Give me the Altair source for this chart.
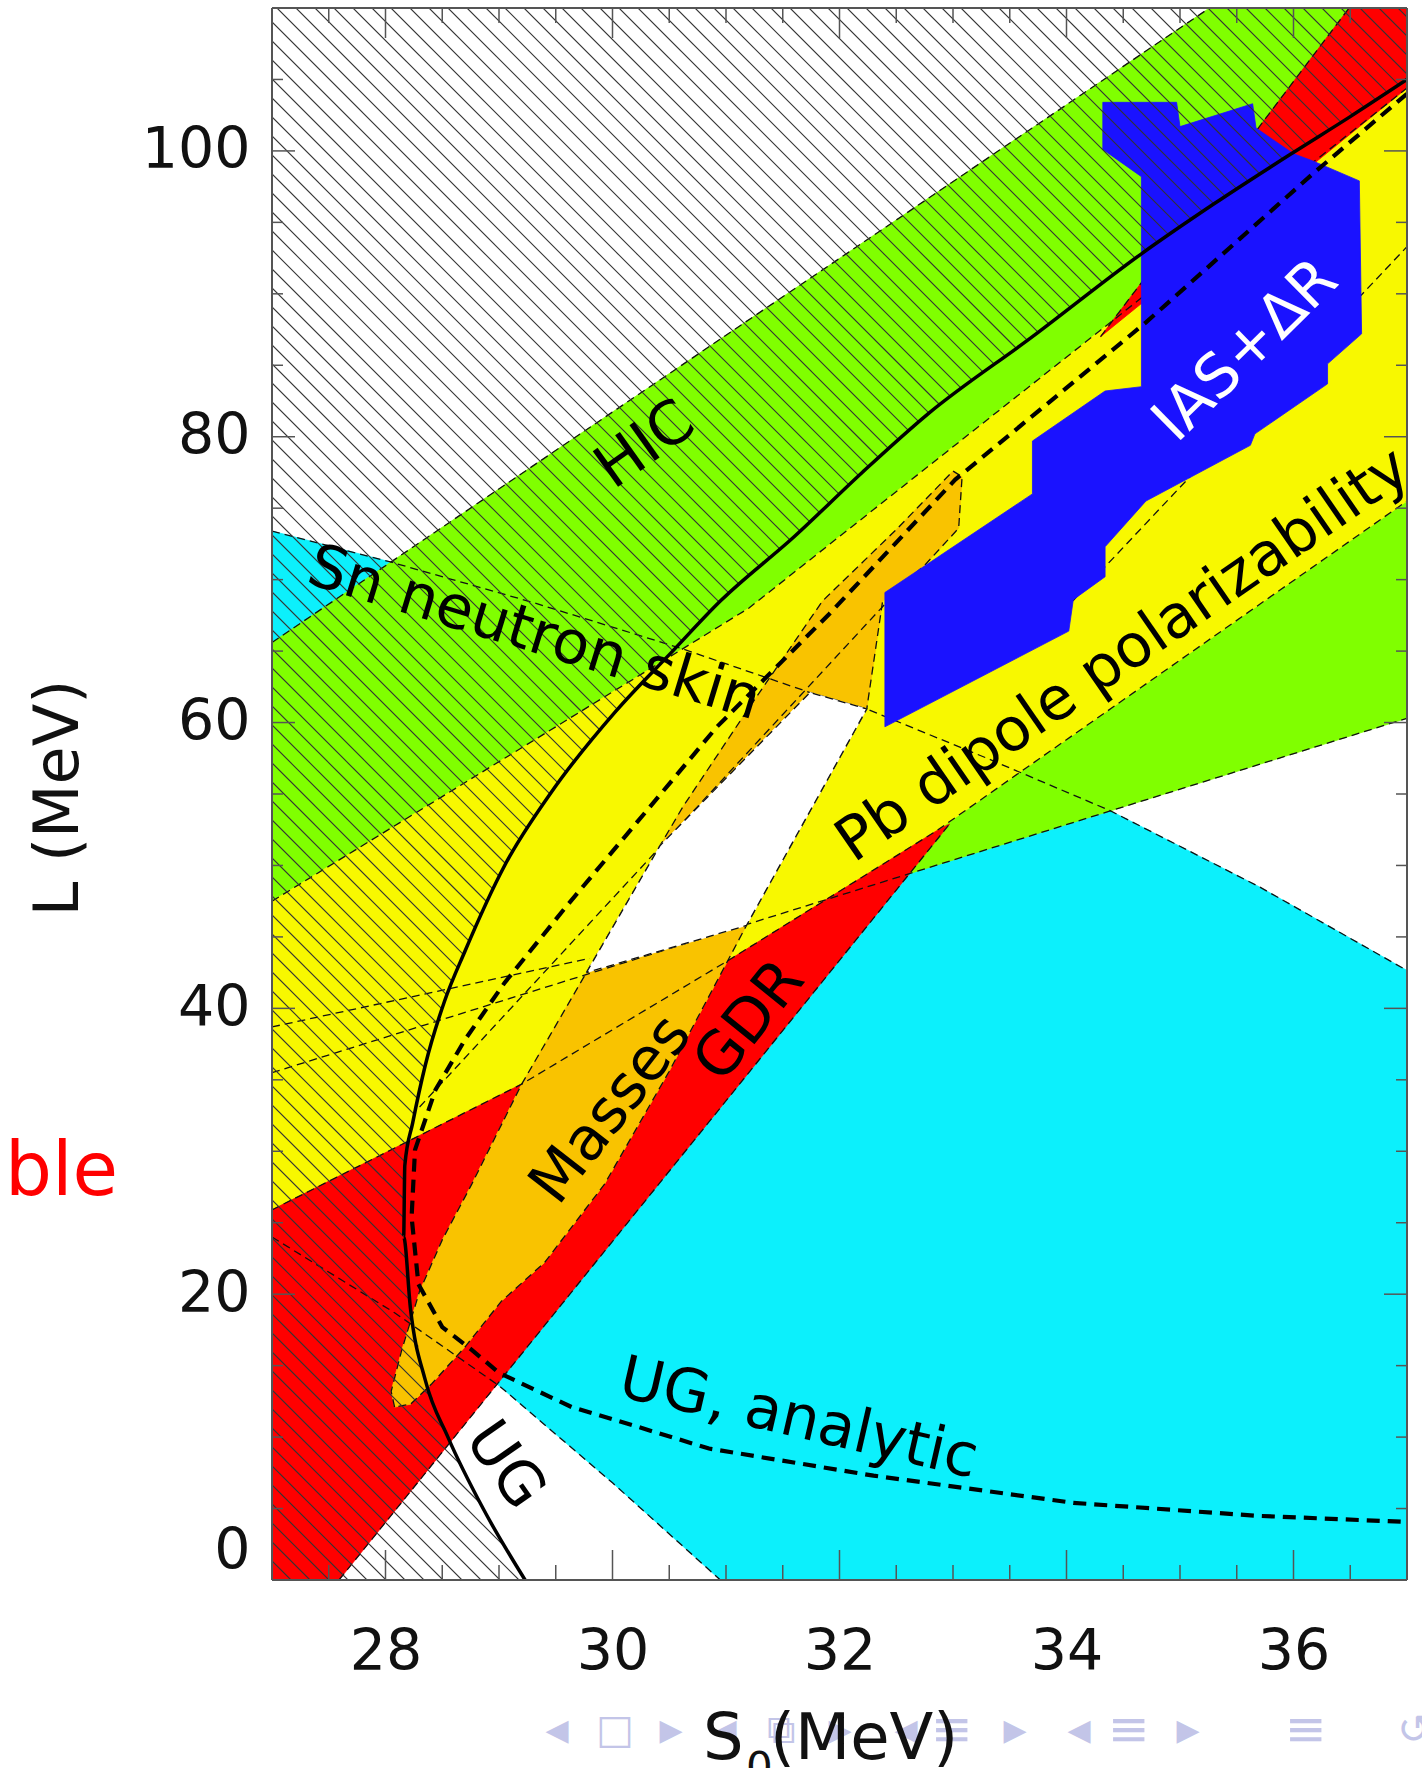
import numpy as np
import pandas as pd
import altair as alt

FONT = "DejaVu Sans"
W, H = 1135, 1572
S_DOMAIN = [27.0, 37.0]
L_DOMAIN = [0.0, 110.0]

CYAN = "#0cf0fc"
GREEN = "#80ff00"
YELLOW = "#f8f800"
RED = "#ff0000"
ORANGE = "#f9c300"
BLUE = "#1a12ff"

# ---------------- constraint band edges (S0, L in MeV) ----------------
SN_UPPER_S = [27.0, 28.06, 29.3, 30.6, 31.74, 32.24, 33.3, 34.38, 35.7, 37.0]
SN_UPPER_L = [73.4, 71.2, 68.4, 65.2, 62.1, 60.95, 57.5, 53.85, 48.5, 42.65]
SN_LOWER_S = [27.0, 28.08, 29.0, 30.0, 30.95]
SN_LOWER_L = [24.0, 18.7, 13.6, 6.8, 0.0]

HIC_TOP_S = [27.0, 35.26]
HIC_TOP_L = [65.6, 110.0]
HIC_LOW_S = [27.0, 37.0]
HIC_LOW_L = [35.5, 60.3]

PB_UPPER_S = [27.0, 31.2, 37.0]
PB_UPPER_L = [47.5, 68.0, 104.4]
PB_LOWER_S = [27.0, 29.2, 31.03, 32.85, 37.0]
PB_LOWER_L = [25.9, 34.7, 43.4, 52.4, 75.5]
PB_INNER1_S = [28.3, 32.6]
PB_INNER1_L = [33.1, 70.0]
PB_INNER2_S = [33.9, 37.0]
PB_INNER2_L = [67.2, 93.3]
PB_INNER3_S = [27.0, 29.8]
PB_INNER3_L = [38.7, 43.5]

GDR_LOW_S = [27.59, 32.97]
GDR_LOW_L = [0.0, 52.9]
GDR_TOP_EDGE_S = [34.30, 36.49]
GDR_TOP_EDGE_L = [87.0, 110.0]

MASSES_S = [28.08, 28.05, 28.14, 28.3, 28.5, 28.76, 29.20, 29.77, 30.42, 30.62, 31.2,
            31.85, 32.5, 33.0, 33.08, 33.05, 32.75, 32.38, 32.24, 31.18, 31.02, 30.5,
            29.93, 29.4, 29.02, 28.7, 28.41, 28.22]
MASSES_L = [12.1, 13.2, 16.0, 20.2, 23.8, 27.7, 34.7, 42.5, 51.4, 54.1, 61.0,
            68.5, 73.5, 77.6, 77.2, 73.6, 71.0, 68.5, 60.95, 45.8, 43.4, 35.6,
            27.7, 22.2, 19.5, 16.3, 13.75, 12.3]

ALLOWED_S = [29.77, 30.42, 31.74, 32.24, 31.18]
ALLOWED_L = [42.5, 51.4, 62.1, 60.95, 45.8]

IAS_S = [34.32, 34.97, 35.0, 35.64, 35.67, 36.0, 36.17, 36.58, 36.60, 36.30, 36.30,
         35.66, 35.62, 34.70, 34.34, 34.34, 34.06, 34.02, 32.40, 32.40, 33.70, 33.70,
         34.34, 34.66, 34.66, 34.32]
IAS_L = [103.4, 103.4, 101.7, 103.3, 101.6, 99.8, 99.3, 97.9, 87.2, 85.1, 83.7,
         80.2, 79.4, 75.5, 72.3, 70.2, 68.6, 66.4, 59.7, 69.1, 76.0, 79.7,
         83.2, 83.5, 98.2, 100.1]

# unitary-gas bound (solid) and its analytic form (dashed)
UG_S = [29.23, 28.86, 28.55, 28.35, 28.22, 28.16, 28.17, 28.24, 28.35, 28.52, 28.70,
        29.05, 29.45, 30.03, 30.53, 30.95, 31.6, 32.2, 32.78, 33.7, 34.66, 35.3,
        35.98, 36.5, 37.0]
UG_L = [0, 5, 10, 14, 19, 24, 29, 32, 36, 40.5, 44, 50, 55, 60.8, 65, 68.5, 73, 77.5,
        81.6, 87, 92.8, 96.3, 99.8, 102.4, 105]
UGA_S = [37.0, 36.17, 34.7, 33.02, 31.91, 30.92, 30.33, 29.6, 29.05, 28.70, 28.44,
         28.26, 28.23, 28.29, 28.50, 28.76, 29.0, 29.64, 30.23, 30.85, 32.30, 34.06,
         35.66, 37.0]
UGA_L = [104.0, 98.4, 88.0, 77.0, 67.6, 59.7, 54.1, 47.2, 41.8, 37.8, 34.3, 30.1,
         25.4, 20.7, 17.7, 16.1, 14.5, 12.1, 10.7, 9.2, 7.3, 5.4, 4.5, 4.06]

# tick positions
X_LABELS = [28, 30, 32, 34, 36]
Y_LABELS = [0, 20, 40, 60, 80, 100]
X_TICKS = [27.5 + 0.5 * k for k in range(19)]
Y_TICKS = [5 * k for k in range(22)]

# in-plot labels: text, S0, L, angle, colour
LABEL_TEXT = ["HIC", "Sn neutron skin", "Pb dipole polarizability", "GDR", "Masses",
              "IAS+ΔR", "UG", "UG, analytic"]
LABEL_S = [30.29, 29.31, 34.50, 31.21, 29.99, 35.58, 29.05, 31.64]
LABEL_L = [79.4, 66.2, 64.7, 39.1, 32.9, 86.0, 8.0, 11.25]
LABEL_ANGLE = [324.6, 17, 325.4, 309, 308, 315.5, 55, 13]
LABEL_COLOR = ["black"] * 5 + ["white"] + ["black"] * 2

XS = alt.Scale(domain=S_DOMAIN, nice=False, zero=False)
YS = alt.Scale(domain=L_DOMAIN, nice=False, zero=False)
AX_X = alt.Axis(values=X_LABELS, title=None, ticks=False, domain=False, grid=False,
                labelFont=FONT, labelFontSize=57, labelColor="#111", labelPadding=44,
                format="d", labelBound=False)
AX_Y = alt.Axis(values=Y_LABELS, title=None, ticks=False, domain=False, grid=False,
                labelFont=FONT, labelFontSize=57, labelColor="#111", labelPadding=22,
                format="d", labelFlush=True)


def xenc(field="s"):
    return alt.X(f"{field}:Q", scale=XS, axis=AX_X)


def yenc(field="l"):
    return alt.Y(f"{field}:Q", scale=YS, axis=AX_Y)


def polygon(s_vals, l_vals, color):
    n = len(s_vals)
    df = pd.DataFrame({"s": list(s_vals) + [s_vals[0]],
                       "l": list(l_vals) + [l_vals[0]],
                       "i": list(range(n + 1))})
    return alt.Chart(df).mark_line(fill=color, stroke=color, strokeWidth=0.8,
                                   clip=True).encode(x=xenc(), y=yenc(), order="i:Q")


def polylines(parts):
    rows = []
    for k, (sv, lv) in enumerate(parts):
        for i, (a, b) in enumerate(zip(sv, lv)):
            rows.append({"s": a, "l": b, "seg": k, "i": i})
    return pd.DataFrame(rows)


# ---------------- filled regions ----------------
sn_poly_s = SN_UPPER_S + [37.0] + SN_LOWER_S[::-1]
sn_poly_l = SN_UPPER_L + [0.0] + SN_LOWER_L[::-1]
hic_poly_s = [HIC_TOP_S[0], HIC_TOP_S[1], 37.0, HIC_LOW_S[1], HIC_LOW_S[0]]
hic_poly_l = [HIC_TOP_L[0], HIC_TOP_L[1], 110.0, HIC_LOW_L[1], HIC_LOW_L[0]]
pb_poly_s = PB_UPPER_S + PB_LOWER_S[::-1]
pb_poly_l = PB_UPPER_L + PB_LOWER_L[::-1]
gdr_low_s = [27.0, GDR_LOW_S[0], GDR_LOW_S[1]] + PB_LOWER_S[3::-1]
gdr_low_l = [0.0, GDR_LOW_L[0], GDR_LOW_L[1]] + PB_LOWER_L[3::-1]
gdr_top_s = [GDR_TOP_EDGE_S[0], GDR_TOP_EDGE_S[1], 37.0, 37.0]
gdr_top_l = [GDR_TOP_EDGE_L[0], GDR_TOP_EDGE_L[1], 110.0, PB_UPPER_L[-1]]

layers = [
    polygon(sn_poly_s, sn_poly_l, CYAN),
    polygon(hic_poly_s, hic_poly_l, GREEN),
    polygon(pb_poly_s, pb_poly_l, YELLOW),
    polygon(gdr_low_s, gdr_low_l, RED),
    polygon(gdr_top_s, gdr_top_l, RED),
    polygon(MASSES_S, MASSES_L, ORANGE),
]

# dashed band outlines
outline_df = polylines([
    (SN_UPPER_S, SN_UPPER_L), (SN_LOWER_S, SN_LOWER_L),
    (HIC_TOP_S, HIC_TOP_L), (HIC_LOW_S, HIC_LOW_L),
    (PB_UPPER_S, PB_UPPER_L), (PB_LOWER_S, PB_LOWER_L),
    (PB_INNER1_S, PB_INNER1_L), (PB_INNER2_S, PB_INNER2_L), (PB_INNER3_S, PB_INNER3_L),
    (GDR_LOW_S, GDR_LOW_L), (GDR_TOP_EDGE_S, GDR_TOP_EDGE_L),
    (MASSES_S + [MASSES_S[0]], MASSES_L + [MASSES_L[0]]),
])
dash_style = dict(color="#111", strokeWidth=1.3, strokeDash=[8, 5], clip=True)
layers.append(alt.Chart(outline_df).mark_line(**dash_style).encode(
    x=xenc(), y=yenc(), detail="seg:N", order="i:Q"))

# allowed (white) region and its outline
layers.append(polygon(ALLOWED_S, ALLOWED_L, "white"))
layers.append(alt.Chart(polylines([(ALLOWED_S + [ALLOWED_S[0]], ALLOWED_L + [ALLOWED_L[0]])]))
              .mark_line(**dash_style).encode(x=xenc(), y=yenc(), detail="seg:N", order="i:Q"))

# IAS + Delta R
layers.append(polygon(IAS_S, IAS_L, BLUE))

# ---------------- hatching of the region excluded by the UG bound ----------------
def px_of_s(s):
    return (np.asarray(s) - S_DOMAIN[0]) / (S_DOMAIN[1] - S_DOMAIN[0]) * W


def s_of_px(px):
    return S_DOMAIN[0] + np.asarray(px) / W * (S_DOMAIN[1] - S_DOMAIN[0])


def l_of_py(py):
    return L_DOMAIN[1] - np.asarray(py) / H * (L_DOMAIN[1] - L_DOMAIN[0])


ug_l_ext = np.array(UG_L + [112.0])
ug_s_ext = np.array(UG_S + [38.4])


def bound_px(py):
    return px_of_s(np.interp(l_of_py(py), ug_l_ext, ug_s_ext))


HATCH_STEP = 19
hatch = []
for c in np.arange(-H, W, HATCH_STEP):
    a, b = max(0.0, c), min(float(W), H + c)
    if b <= a:
        continue
    xs_ = np.linspace(a, b, 800)
    g = xs_ - bound_px(xs_ - c)
    if g[0] >= 0:
        continue
    if g[-1] < 0:
        end = b
    else:
        k = int(np.argmax(g >= 0))
        x0, x1, g0, g1 = xs_[k - 1], xs_[k], g[k - 1], g[k]
        end = x0 + (x1 - x0) * (-g0) / (g1 - g0)
    hatch.append({"s": float(s_of_px(a)), "l": float(l_of_py(a - c)),
                  "s2": float(s_of_px(end)), "l2": float(l_of_py(end - c))})
hatch_df = pd.DataFrame(hatch)
layers.append(alt.Chart(hatch_df).mark_rule(color="#333", strokeWidth=1.1, clip=True).encode(
    x=xenc(), y=yenc(), x2="s2:Q", y2="l2:Q"))

# ---------------- UG curves ----------------
ug_df = pd.DataFrame({"s": UG_S, "l": UG_L, "i": range(len(UG_S))})
uga_df = pd.DataFrame({"s": UGA_S, "l": UGA_L, "i": range(len(UGA_S))})
layers.append(alt.Chart(ug_df).mark_line(color="black", strokeWidth=3.5, clip=True,
                                         interpolate="monotone").encode(
    x=xenc(), y=yenc(), order="i:Q"))
layers.append(alt.Chart(uga_df).mark_line(color="black", strokeWidth=4.2, strokeDash=[13, 8],
                                          clip=True).encode(
    x=xenc(), y=yenc(), order="i:Q"))

# ---------------- frame and inward ticks ----------------
dx_major, dx_minor = 23 / W * 10, 11 / W * 10
dy_major, dy_minor = 30 / H * 110, 15 / H * 110
tick_rows = []
for v in X_TICKS:
    d = dy_major if v in X_LABELS else dy_minor
    tick_rows.append({"s": v, "l": 0.0, "s2": v, "l2": d})
    tick_rows.append({"s": v, "l": 110.0, "s2": v, "l2": 110.0 - d})
for v in Y_TICKS:
    d = dx_major if v in Y_LABELS else dx_minor
    tick_rows.append({"s": 27.0, "l": v, "s2": 27.0 + d, "l2": v})
    tick_rows.append({"s": 37.0, "l": v, "s2": 37.0 - d, "l2": v})
layers.append(alt.Chart(pd.DataFrame(tick_rows)).mark_rule(color="#555", strokeWidth=1.5).encode(
    x=xenc(), y=yenc(), x2="s2:Q", y2="l2:Q"))
frame_df = pd.DataFrame({"s": [27.0, 27.0, 27.0, 37.0], "l": [0.0, 110.0, 0.0, 0.0],
                         "s2": [37.0, 37.0, 27.0, 37.0], "l2": [0.0, 110.0, 110.0, 110.0]})
layers.append(alt.Chart(frame_df).mark_rule(color="#555", strokeWidth=2).encode(
    x=xenc(), y=yenc(), x2="s2:Q", y2="l2:Q"))

# ---------------- labels inside the plot ----------------
for t, s, l, ang, col in zip(LABEL_TEXT, LABEL_S, LABEL_L, LABEL_ANGLE, LABEL_COLOR):
    df = pd.DataFrame({"s": [s], "l": [l], "t": [t]})
    layers.append(alt.Chart(df).mark_text(font=FONT, fontSize=60, color=col, angle=ang,
                                          align="center", baseline="middle").encode(
        x=xenc(), y=yenc(), text="t:N"))


def free_text(txt, x, y, size, color="#111", align="left", baseline="alphabetic", angle=0):
    df = pd.DataFrame({"t": [txt]})
    return alt.Chart(df).mark_text(font=FONT, fontSize=size, color=color, align=align,
                                   baseline=baseline, angle=angle).encode(
        x=alt.value(x), y=alt.value(y), text="t:N")


# slide navigation symbols
NAV_X = [557, 615, 671, 725, 781, 840, 906, 952, 1015, 1079, 1129, 1188, 1306, 1414]
NAV_T = ["◀", "□", "▶", "◀", "⧉", "▶", "◀", "≡", "▶", "◀", "≡", "▶", "≡", "↺"]
NAV_SIZE = [30, 40, 30, 30, 40, 30, 30, 50, 30, 30, 50, 30, 50, 40]
for x, t, sz in zip(NAV_X, NAV_T, NAV_SIZE):
    layers.append(free_text(t, x - 272, 1723, sz, color="#c3c5e8", align="center",
                            baseline="middle"))

# axis titles
layers.append(free_text("S", 431, 1751, 64))
layers.append(free_text("0", 474, 1774, 42))
layers.append(free_text("(MeV)", 498, 1751, 64))
layers.append(free_text("L (MeV)", -213, 790, 62, align="center", baseline="middle",
                        angle=270))
# fragment of neighbouring slide text
layers.append(free_text("ble", -267, 1187, 74, color="#ff0000"))

chart = alt.layer(*layers).properties(
    width=W, height=H,
    padding={"left": 272, "top": 8, "right": 15, "bottom": 188},
    autosize=alt.AutoSizeParams(type="none"),
).configure_view(strokeWidth=0)

chart.save("out.html", embed_options={"renderer": "svg", "actions": False})
